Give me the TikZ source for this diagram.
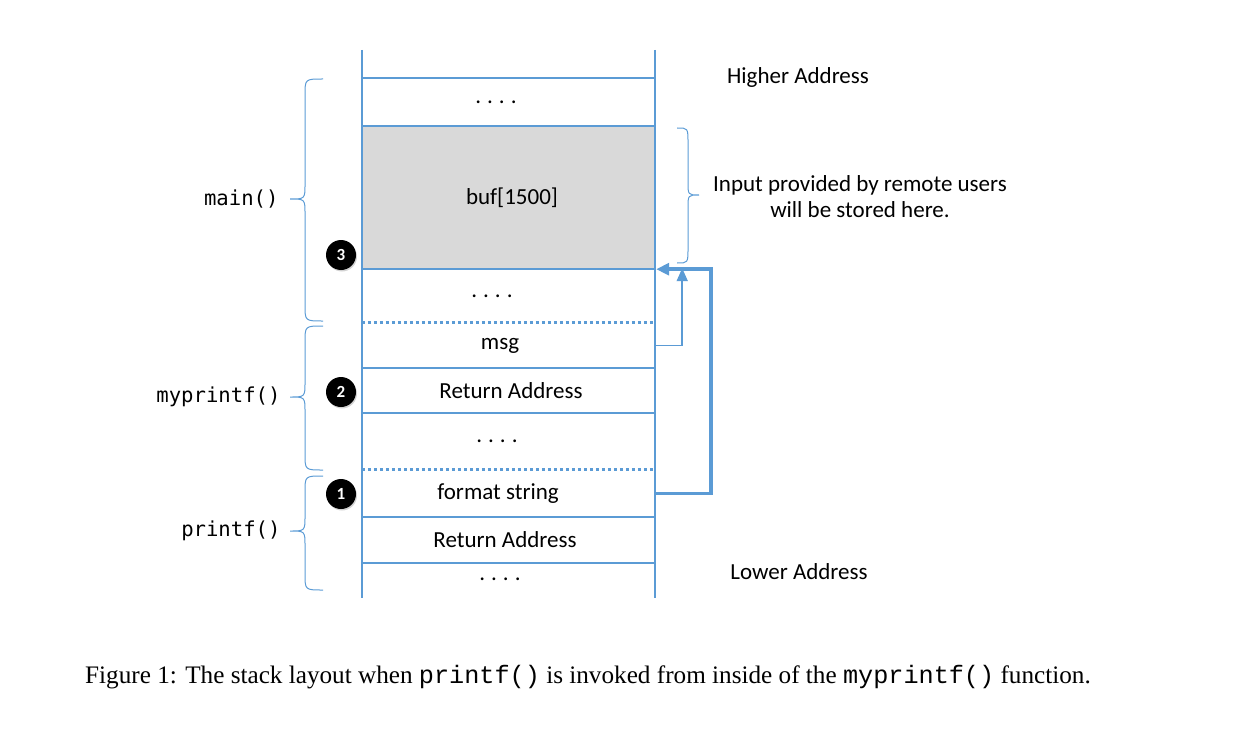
\documentclass[tikz,border=0pt]{standalone}
\usepackage{fontspec}
\setmainfont{Carlito}
\newfontfamily\capfont{Liberation Serif}
\newfontfamily\capmono{Liberation Mono}
\newfontfamily\codefont{DejaVu Sans Mono}
\usetikzlibrary{shadows,arrows.meta}
\definecolor{lblue}{HTML}{5B9BD5}
\definecolor{cellgray}{HTML}{D9D9D9}
\newcommand{\bracel}[4]{% x-end, y-top, y-bottom, y-tip : left-pointing
  \draw[bracestyle] (#1,#2) .. controls (#1-18,#2) .. (#1-18,#2+16) -- (#1-18,#4-15)
    .. controls (#1-18,#4) .. (#1-33,#4) .. controls (#1-18,#4) .. (#1-18,#4+15)
    -- (#1-18,#3-16) .. controls (#1-18,#3) .. (#1,#3);}
\newcommand{\shiftx}[2]{\kern#1pt\relax#2}
\newcommand{\fourdots}{.\hspace{6pt}.\hspace{6pt}.\hspace{6pt}.}
\begin{document}
\begin{tikzpicture}[x=1pt,y=-1pt,
  stackline/.style={draw=lblue,line width=2pt},
  dotline/.style={draw=lblue,line width=3pt,dash pattern=on 3pt off 3pt},
  bracestyle/.style={draw=lblue,line width=1pt},
  cell/.style={minimum width=293pt,inner sep=0pt,font=\fontsize{23}{27}\selectfont},
  lab/.style={font=\fontsize{23}{27}\selectfont},
  fname/.style={anchor=east,font=\codefont\fontsize{20.6}{24}\selectfont},
  badge/.style={circle,fill=black,minimum size=30pt,inner sep=0pt,text=white,
    font=\bfseries\fontsize{17}{19}\selectfont,drop shadow={opacity=0.35,shadow xshift=1pt,shadow yshift=-1.5pt}},
  thinarrow/.style={draw=lblue,line width=1.8pt,-{Triangle[length=13pt,width=11pt]}},
  thickarrow/.style={draw=lblue,line width=3.5pt,-{Triangle[length=13pt,width=12pt]}}]
\useasboundingbox (0,0) rectangle (1238,730);
% cells
\node[cell,minimum height=48pt] (top) at (508.5,102) {\shiftx{-25}{\fourdots}};
\node[cell,minimum height=143pt,fill=cellgray] (buf) at (508.5,197.5) {\shiftx{7}{\raisebox{-8pt}{buf[1500]}}};
\node[cell,minimum height=54pt] (dots2) at (508.5,296) {\shiftx{-33}{\fourdots}};
\node[cell,minimum height=45pt] (msg) at (508.5,345.5) {\shiftx{-17}{msg}};
\node[cell,minimum height=45pt] (ret2) at (508.5,390.5) {\shiftx{5}{Return Address}};
\node[cell,minimum height=57pt] (dots3) at (508.5,441.5) {\shiftx{-23}{\fourdots}};
\node[cell,minimum height=47pt] (fmt) at (508.5,493.5) {\shiftx{-21}{format string}};
\node[cell,minimum height=46pt] (ret1) at (508.5,540) {\shiftx{-7}{Return Address}};
\node[cell,minimum height=35pt] (dots4) at (508.5,580.5) {\shiftx{-17}{\raisebox{2pt}{\fourdots}}};
% stack walls
\coordinate (lt) at (362,50); \coordinate (lb) at (362,598);
\coordinate (rt) at (655,50); \coordinate (rb) at (655,598);
\draw[stackline] (lt) -- (lb);
\draw[stackline] (rt) -- (rb);
\draw[stackline] (top.north west) -- (top.north east);
\draw[stackline] (buf.north west) -- (buf.north east);
\draw[stackline] (buf.south west) -- (buf.south east);
\draw[dotline] (msg.north west) -- (msg.north east);
\draw[stackline] (ret2.north west) -- (ret2.north east);
\draw[stackline] (ret2.south west) -- (ret2.south east);
\draw[dotline] (fmt.north west) -- (fmt.north east);
\draw[stackline] (ret1.north west) -- (ret1.north east);
\draw[stackline] (ret1.south west) -- (ret1.south east);
% braces
\bracel{323}{79}{321}{199}
\bracel{323}{326}{470}{397}
\bracel{323}{476}{590}{531}
\draw[bracestyle] (677,128) .. controls (688,128) .. (688,143) -- (688,182)
  .. controls (688,195) .. (699,195) .. controls (688,195) .. (688,208)
  -- (688,248) .. controls (688,263) .. (677,263);
% function names
\node[fname] (fmain) at (282,199) {main()};
\node[fname] (fmy) at (284,397) {myprintf()};
\node[fname] (fpr) at (284,531) {printf()};
% badges
\node[badge] (b3) at (341,255) {3};
\node[badge] (b2) at (341,392) {2};
\node[badge] (b1) at (341,494) {1};
% right labels
\node[lab] (hi) at (798,77) {Higher Address};
\node[lab] (lo) at (799,572) {Lower Address};
\node[lab,align=center] (inp) at (860,197) {Input provided by remote users\\[-1pt]will be stored here.};
% arrows
\draw[thinarrow] (msg.east) -| ([xshift=27pt,yshift=1pt]buf.south east);
\draw[thickarrow] (fmt.east) -| ([xshift=56pt]buf.south east) -- ([xshift=1pt]buf.south east);
% caption
\node (cap) at (588,677) {\capfont\fontsize{25.2}{29}\selectfont Figure 1: The stack layout when {\capmono printf()} is invoked from inside of the {\capmono myprintf()} function.};
\end{tikzpicture}
\end{document}
